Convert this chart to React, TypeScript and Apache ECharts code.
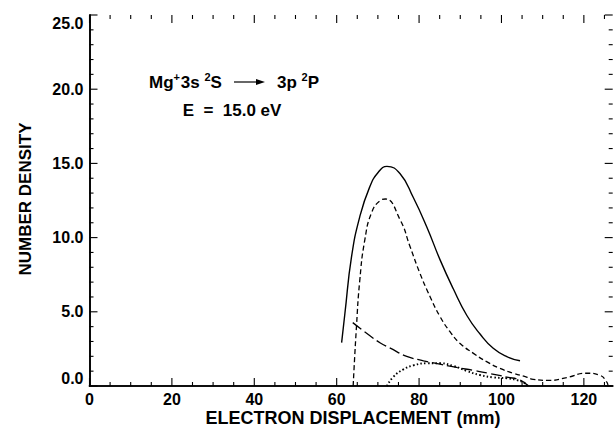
import React, { useEffect, useRef } from "react";
import * as echarts from "echarts";

// Data (x: electron displacement mm, y: number density)
const solidX = [61.2, 62.0, 63.6, 65.6, 68.0, 70.1, 72.2, 75.4, 78.6, 81.9, 85.1, 88.3, 91.6, 94.8, 98.0, 101.3, 104.5];
const solidY = [2.92, 4.9, 8.7, 11.4, 13.4, 14.4, 14.8, 14.3, 12.7, 10.7, 8.5, 6.55, 4.75, 3.5, 2.54, 1.98, 1.7];

const shortDashX = [64.0, 64.8, 65.6, 66.8, 68.5, 70.6, 71.8, 75.4, 77.8, 80.2, 82.7, 85.1, 87.5, 89.9, 93.2, 96.4, 99.6, 102.9, 106.1, 107.7, 111.8, 115.8, 120.6, 123.9, 125.5, 125.9];
const shortDashY = [0, 4.0, 7.1, 9.8, 11.7, 12.5, 12.6, 11.2, 9.4, 7.6, 6.0, 4.67, 3.66, 2.88, 2.2, 1.64, 1.19, 0.86, 0.6, 0.45, 0.38, 0.56, 0.86, 0.72, 0.29, 0];

const longDashX = [63.9, 68.0, 70.6, 73.0, 77.0, 81.1, 85.1, 89.1, 93.2, 97.2, 101.3, 104.5, 106.5];
const longDashY = [4.27, 3.4, 2.9, 2.55, 2.0, 1.7, 1.47, 1.25, 1.05, 0.84, 0.6, 0.4, 0];

const dottedX = [72.2, 73.8, 76.2, 78.6, 81.9, 85.1, 88.3, 91.6, 94.8, 98.0, 101.3, 103.7, 105.7, 106.4];
const dottedY = [0, 0.63, 1.12, 1.39, 1.53, 1.53, 1.35, 1.01, 0.74, 0.58, 0.52, 0.4, 0.18, 0];

// Tick marks (inward, on all four sides)
const xMajorTicks = [0, 20, 40, 60, 80, 100, 120];
const xMinorTicks = [5, 10, 15, 25, 30, 35, 45, 50, 55, 65, 70, 75, 85, 90, 95, 105, 110, 115, 125];
const yMajorTicks = [0, 5, 10, 15, 20, 25];
const yMinorTicks = [1, 2, 3, 4, 6, 7, 8, 9, 11, 12, 13, 14, 16, 17, 18, 19, 21, 22, 23, 24];

const X_MIN = 0;
const X_MAX = 127;
const Y_MIN = 0;
const Y_MAX = 25;

const xTitle = "ELECTRON DISPLACEMENT (mm)";
const yTitle = "NUMBER DENSITY";

const FONT = "'Liberation Sans', Arial, Helvetica, sans-serif";

function pairs(xs: number[], ys: number[]) {
  return xs.map((x, i) => [x, ys[i]]);
}

export default function App() {
  const ref = useRef<HTMLDivElement>(null);
  useEffect(() => {
    if (!ref.current) return;
    const chart = echarts.init(ref.current, null, { renderer: "svg" });
    const axisLine = () => ({ show: true, lineStyle: { color: "#000", width: 1.6 } });
    const labelStyle = { color: "#000", fontFamily: FONT, fontWeight: "bold" as const, fontSize: 16 };
    const xBase = { type: "value" as const, min: X_MIN, max: X_MAX, interval: 20, splitLine: { show: false }, axisTick: { show: false } };
    const yBase = { type: "value" as const, min: Y_MIN, max: Y_MAX, interval: 5, splitLine: { show: false }, axisTick: { show: false } };
    const lineBase = {
      type: "line" as const,
      showSymbol: false,
      smooth: 0.5,
      xAxisIndex: 0,
      yAxisIndex: 0,
    };
    const richText = {
      a: { fontFamily: FONT, fontWeight: "bold", fontSize: 17, fill: "#000", lineHeight: 22 },
      g: { fontFamily: FONT, fontSize: 3, fill: "#000", lineHeight: 22 },
      s: { fontFamily: FONT, fontWeight: "bold", fontSize: 11, fill: "#000", verticalAlign: "top", lineHeight: 22 },
    };
    const textGraphics = [
      {
        type: "text",
        x: 353,
        y: 418,
        style: { text: xTitle, fill: "#000", font: `bold 18px ${FONT}`, align: "center", verticalAlign: "middle" },
      },
      {
        type: "text",
        x: 25,
        y: 199,
        rotation: Math.PI / 2,
        style: { text: yTitle, fill: "#000", font: `bold 17px ${FONT}`, align: "center", verticalAlign: "middle" },
      },
      {
        type: "text",
        x: 149,
        y: 82,
        style: { text: "{a|Mg}{s|+}{g| }{a|3s }{s|2}{a|S}", align: "left", verticalAlign: "middle", rich: richText },
      },
      { type: "line", shape: { x1: 234, y1: 82, x2: 258, y2: 82 }, style: { stroke: "#000", lineWidth: 1.2 } },
      { type: "polygon", shape: { points: [[256, 79], [265, 82], [256, 85]] }, style: { fill: "#000" } },
      {
        type: "text",
        x: 277,
        y: 82,
        style: { text: "{a|3p }{s|2}{a|P}", align: "left", verticalAlign: "middle", rich: richText },
      },
      {
        type: "text",
        x: 232,
        y: 110,
        style: { text: "E  =  15.0 eV", fill: "#000", font: `bold 17px ${FONT}`, align: "center", verticalAlign: "middle" },
      },
    ];
    chart.setOption({
      animation: false,
      backgroundColor: "#fff",
      grid: { left: 89.5, right: 2.3, top: 15, bottom: 49, containLabel: false },
      xAxis: [
        {
          ...xBase,
          position: "bottom",
          axisLine: axisLine(),
          axisLabel: {
            ...labelStyle,
            margin: 5,
            showMaxLabel: false,
            formatter: (v: number) => (xMajorTicks.includes(v) ? String(v) : ""),
          },
        },
        { ...xBase, position: "top", axisLine: axisLine(), axisLabel: { show: false } },
      ],
      yAxis: [
        {
          ...yBase,
          position: "left",
          axisLine: axisLine(),
          axisLabel: {
            ...labelStyle,
            margin: 6,
            verticalAlignMaxLabel: "top",
            verticalAlignMinLabel: "bottom",
            formatter: (v: number) => (yMajorTicks.includes(v) ? v.toFixed(1) : ""),
          },
        },
        { ...yBase, position: "right", axisLine: axisLine(), axisLabel: { show: false } },
      ],
      series: [
        { ...lineBase, name: "total", data: pairs(solidX, solidY), lineStyle: { color: "#000", width: 1.4, type: "solid" } },
        { ...lineBase, name: "short", data: pairs(shortDashX, shortDashY), lineStyle: { color: "#000", width: 1.3, type: [5, 3] } },
        { ...lineBase, name: "long", data: pairs(longDashX, longDashY), lineStyle: { color: "#000", width: 1.3, type: [11, 4] } },
        { ...lineBase, name: "dot", data: pairs(dottedX, dottedY), lineStyle: { color: "#000", width: 1.9, type: [1.5, 2.3] } },
      ],
      graphic: textGraphics,
    });

    // Tick marks placed through the chart's own scales
    const px = (x: number, y: number) => chart.convertToPixel({ gridIndex: 0 }, [x, y]) as number[];
    const left = px(X_MIN, Y_MIN)[0];
    const right = px(X_MAX, Y_MIN)[0];
    const bottom = px(X_MIN, Y_MIN)[1];
    const top = px(X_MIN, Y_MAX)[1];
    const ticks: any[] = [];
    const addX = (vals: number[], len: number) =>
      vals.forEach((v) => {
        const x = px(v, Y_MIN)[0];
        ticks.push({ type: "line", z: 100, shape: { x1: x, y1: bottom, x2: x, y2: bottom - len }, style: { stroke: "#000", lineWidth: 1.1 } });
        ticks.push({ type: "line", z: 100, shape: { x1: x, y1: top, x2: x, y2: top + len }, style: { stroke: "#000", lineWidth: 1.1 } });
      });
    const addY = (vals: number[], len: number) =>
      vals.forEach((v) => {
        const y = px(X_MIN, v)[1];
        ticks.push({ type: "line", z: 100, shape: { x1: left, y1: y, x2: left + len, y2: y }, style: { stroke: "#000", lineWidth: 1.1 } });
        ticks.push({ type: "line", z: 100, shape: { x1: right, y1: y, x2: right - len, y2: y }, style: { stroke: "#000", lineWidth: 1.1 } });
      });
    addX(xMajorTicks, 8);
    addX(xMinorTicks, 4);
    addY(yMajorTicks, 8);
    addY(yMinorTicks, 4);
    chart.setOption({ graphic: [...textGraphics, ...ticks] }, { replaceMerge: ["graphic"] });

    return () => chart.dispose();
  }, []);
  return (
    <div
      ref={ref}
      style={{ position: "fixed", left: 0, top: 0, width: 615, height: 435, background: "#fff" }}
    />
  );
}
